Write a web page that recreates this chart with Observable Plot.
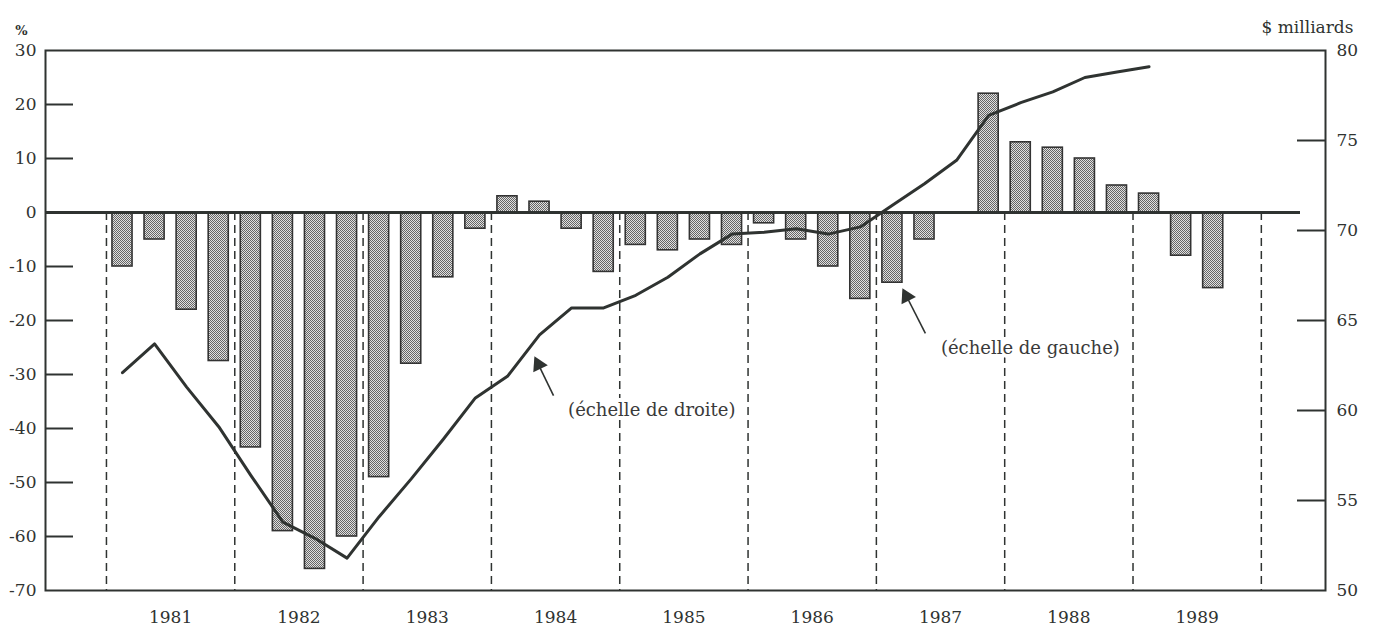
<!DOCTYPE html>
<html><head><meta charset="utf-8">
<script src="https://cdn.jsdelivr.net/npm/d3@7"></script>
<script src="https://cdn.jsdelivr.net/npm/@observablehq/plot@0.6"></script>
<style>html,body{margin:0;padding:0;background:#fff;} #chart{width:1375px;height:629px;}</style>
</head><body><div id="chart"></div>
<script>
// ---- data ----
const years = [1981, 1982, 1983, 1984, 1985, 1986, 1987, 1988, 1989];
const quarters = [1, 2, 3, 4];
// quarterly % change (left scale), 1981 T1 .. 1989 T4 (null = no bar)
const pctChange = [
  -10, -5, -18, -27.5,
  -43.5, -59, -66, -60,
  -49, -28, -12, -3,
  3, 2, -3, -11,
  -6, -7, -5, -6,
  -2, -5, -10, -16,
  -13, -5, null, 22,
  13, 12, 10, 5,
  3.5, -8, -14, null
];
// level in $ milliards (right scale), 1981 T1 .. 1989 T1
const reserves = [
  62.1, 63.7, 61.3, 59.1,
  56.4, 53.8, 52.9, 51.8,
  54.1, 56.2, 58.4, 60.7,
  61.9, 64.2, 65.7, 65.7,
  66.4, 67.4, 68.7, 69.8,
  69.9, 70.1, 69.8, 70.2,
  71.4, 72.6, 73.9, 76.4,
  77.1, 77.7, 78.5, 78.8,
  79.1
];
const leftTickLabels = [30, 20, 10, 0, -10, -20, -30, -40, -50, -60, -70];
const leftTickMarks = [20, 10, 0, -10, -20, -30, -40, -50, -60];
const rightTickLabels = [80, 75, 70, 65, 60, 55, 50];
const rightTickMarks = [75, 70, 65, 60, 55];
const leftLabel = "%";
const rightLabel = "$ milliards";
const notes = [
  {label: "(échelle de droite)", x: 1985.25, y: -36.7, tailX: 1984.484, tailY: -33.9, tipX: 1984.343, tipY: -27.0},
  {label: "(échelle de gauche)", x: 1988.2, y: -25.2, tailX: 1987.382, tailY: -22.4, tipX: 1987.211, tipY: -14.4}
];

// ---- scales / helpers ----
const pctDomain = [-70, 30];
const usdDomain = [50, 80];
const xDomain = [1980.525, 1990.5];
const toPct = v => (v - usdDomain[0]) / (usdDomain[1] - usdDomain[0]) * (pctDomain[1] - pctDomain[0]) + pctDomain[0];
const fromPct = p => (p - pctDomain[0]) / (pctDomain[1] - pctDomain[0]) * (usdDomain[1] - usdDomain[0]) + usdDomain[0];

const W = 1375, H = 629, mL = 45, mR = 50, mT = 50, mB = 39;
const pxYear = (W - mL - mR) / (xDomain[1] - xDomain[0]);
const pxPct = (H - mT - mB) / (pctDomain[1] - pctDomain[0]);

const bars = [];
years.forEach((yr, i) => quarters.forEach((q, j) => {
  const v = pctChange[i * 4 + j];
  if (v != null) bars.push({x1: yr + (q - 1) / 4, x2: yr + q / 4, v});
}));
const linePts = reserves.map((v, k) => ({t: years[Math.floor(k / 4)] + (quarters[k % 4] - 0.5) / 4, v}));
const boundaries = years.concat([years[years.length - 1] + 1]);

const heads = notes.map(n => {
  const dx = (n.tipX - n.tailX) * pxYear, dy = -(n.tipY - n.tailY) * pxPct;
  const len = Math.hypot(dx, dy), back = 7;
  return {
    x: n.tipX - (dx / len) * back / pxYear,
    y: n.tipY + (dy / len) * back / pxPct,
    rot: Math.atan2(dx, -dy) * 180 / Math.PI
  };
});

const ink = "#2f3331";
const font = "DejaVu Serif";

const chart = Plot.plot({
  width: W, height: H,
  marginLeft: mL, marginRight: mR, marginTop: mT, marginBottom: mB,
  style: {fontFamily: font, fontSize: "17px", color: ink, background: "#fff"},
  x: {domain: xDomain},
  y: {domain: pctDomain},
  marks: [
    Plot.ruleX(boundaries, {x: d => d, y1: 0, y2: pctDomain[0], stroke: ink, strokeWidth: 1.5, strokeDasharray: "8,5"}),
    Plot.rectY(bars, {x1: "x1", x2: "x2", y: "v", insetLeft: 6, insetRight: 6, fill: "url(#halftone)", stroke: "#333", strokeWidth: 1.6}),
    Plot.ruleY([0], {stroke: ink, strokeWidth: 3, insetRight: 25}),
    Plot.line(linePts, {x: "t", y: d => toPct(d.v), stroke: ink, strokeWidth: 3, strokeLinejoin: "round"}),
    Plot.frame({stroke: ink, strokeWidth: 2}),
    Plot.tickY(leftTickMarks, {y: d => d, stroke: ink, strokeWidth: 2, insetRight: (W - mL - mR) - 28}),
    Plot.tickY(rightTickMarks, {y: d => toPct(d), stroke: ink, strokeWidth: 2, insetLeft: (W - mL - mR) - 28}),
    Plot.axisY(leftTickLabels, {anchor: "left", tickSize: 0, tickPadding: 9, tickFormat: d => String(d), label: null, fontSize: 17}),
    Plot.axisY(rightTickLabels.map(toPct), {anchor: "right", tickSize: 0, tickPadding: 11, tickFormat: d => String(Math.round(fromPct(d))), label: null, fontSize: 17}),
    Plot.axisX(years.map(y => y + 0.5), {anchor: "bottom", tickSize: 0, tickPadding: 20, tickFormat: d => String(Math.floor(d)), label: null, fontSize: 17}),
    Plot.text([leftLabel], {frameAnchor: "top-left", textAnchor: "middle", dx: -24, dy: -25, text: d => d, fontSize: 13, fontWeight: "bold", fill: ink}),
    Plot.text([rightLabel], {frameAnchor: "top-right", textAnchor: "middle", dx: -18, dy: -30, text: d => d, fontSize: 17, fill: ink}),
    Plot.link(notes, {x1: "tailX", y1: "tailY", x2: "tipX", y2: "tipY", stroke: ink, strokeWidth: 1.6}),
    Plot.dot(heads, {x: "x", y: "y", symbol: "triangle", r: 6, rotate: "rot", fill: ink, stroke: "none"}),
    Plot.text(notes, {x: "x", y: "y", text: "label", fontSize: 18, fill: "#3a3a3a", stroke: "white", strokeWidth: 8})
  ]
});

// halftone pattern for the bars
const ns = "http://www.w3.org/2000/svg";
const defs = document.createElementNS(ns, "defs");
const pat = document.createElementNS(ns, "pattern");
pat.setAttribute("id", "halftone");
pat.setAttribute("width", "2");
pat.setAttribute("height", "2");
pat.setAttribute("patternUnits", "userSpaceOnUse");
[["0", "0", "2", "2", "#e0e0e0"], ["0", "0", "1", "1", "#666"], ["1", "1", "1", "1", "#666"]].forEach(([x, y, w, h, c]) => {
  const r = document.createElementNS(ns, "rect");
  r.setAttribute("x", x); r.setAttribute("y", y); r.setAttribute("width", w); r.setAttribute("height", h); r.setAttribute("fill", c);
  pat.appendChild(r);
});
defs.appendChild(pat);
chart.insertBefore(defs, chart.firstChild);

document.getElementById("chart").appendChild(chart);
</script></body></html>
